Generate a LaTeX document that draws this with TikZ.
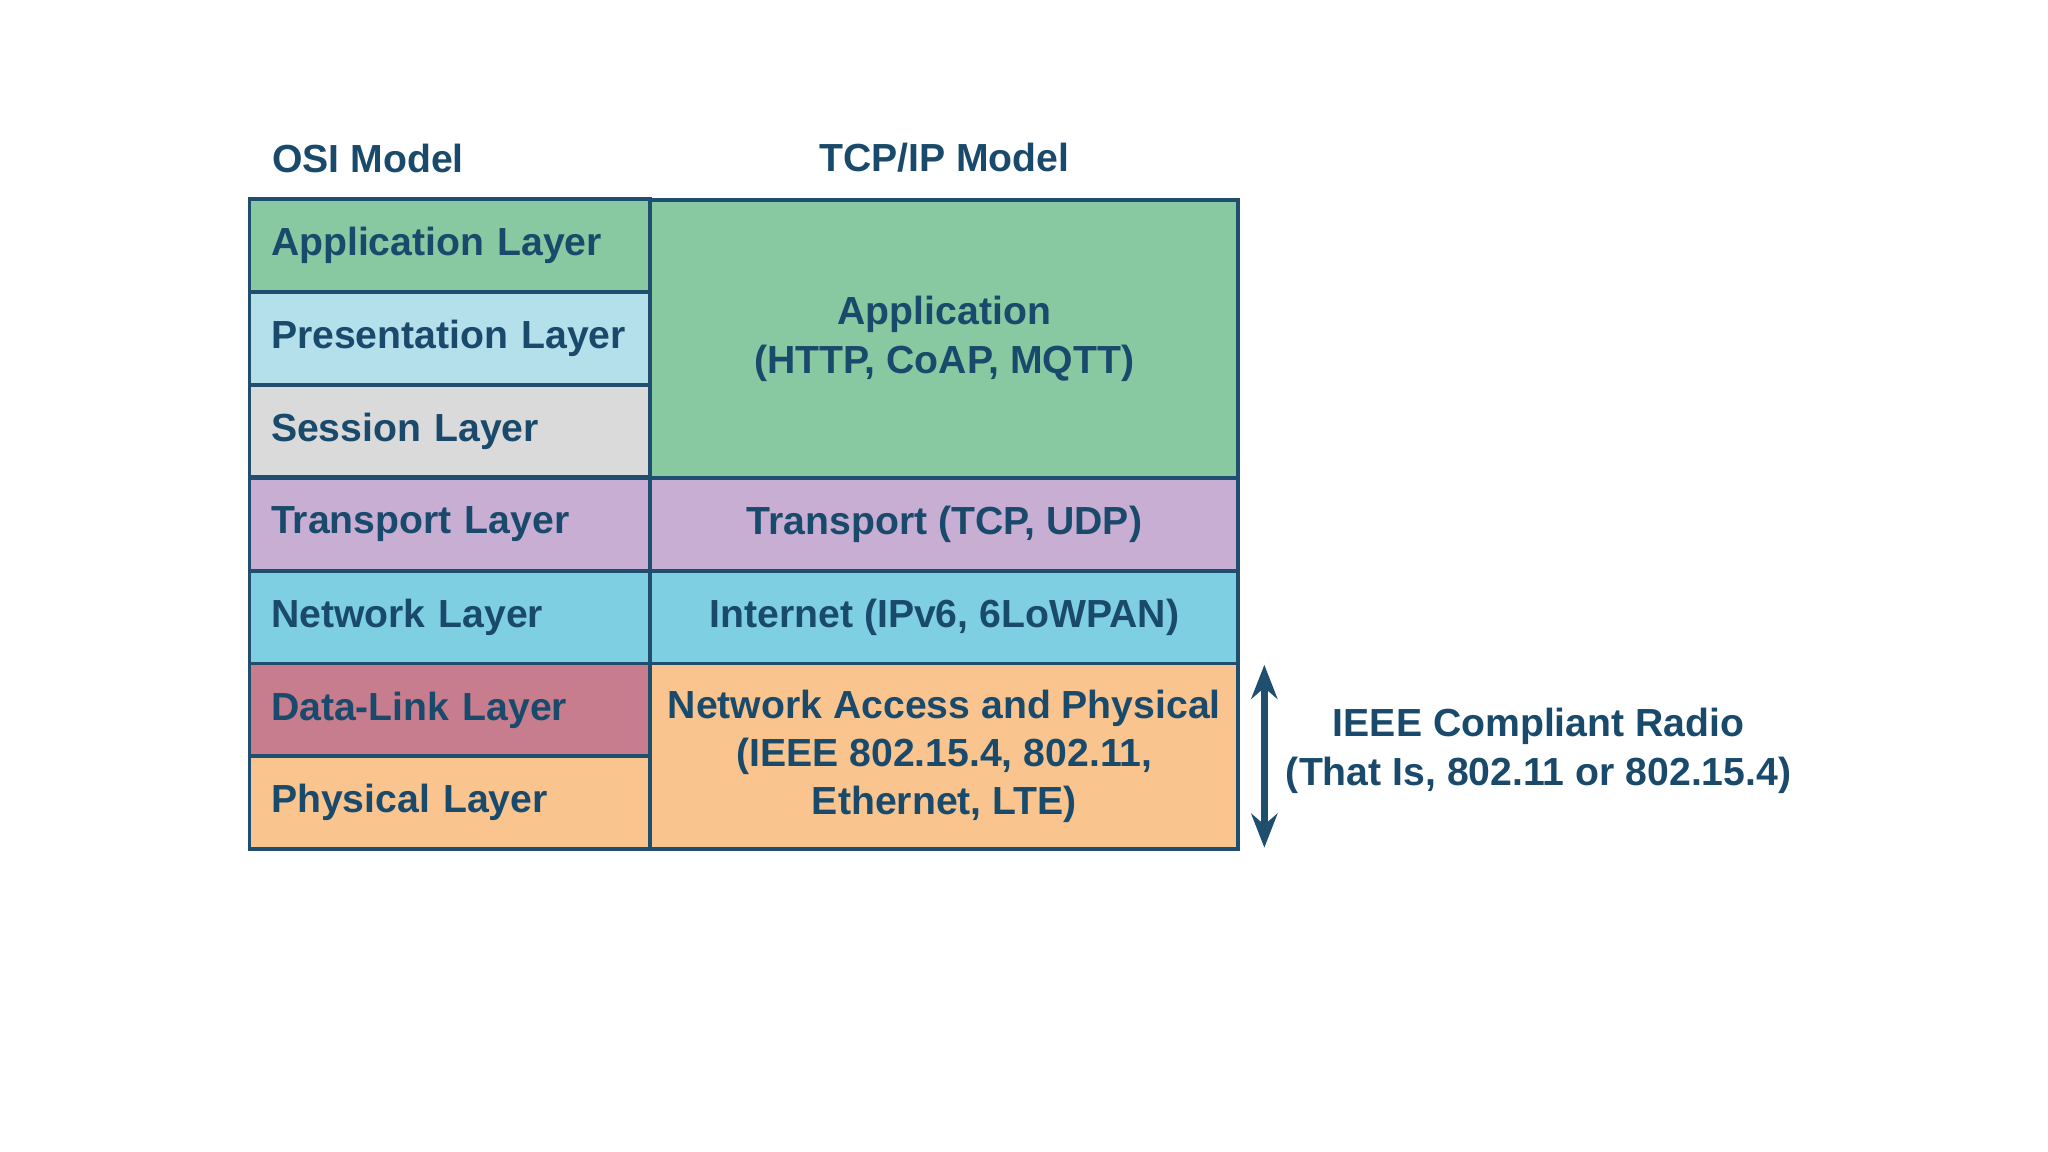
\documentclass[tikz,border=0pt]{standalone}
\usepackage{fontspec}
\setmainfont{Liberation Sans}
\usetikzlibrary{arrows.meta}
\definecolor{tx}{HTML}{1A4A6B}
\definecolor{bd}{HTML}{1F4E6E}
\definecolor{cgreen}{HTML}{88C9A1}
\definecolor{clblue}{HTML}{B3E0EA}
\definecolor{cgrey}{HTML}{DADADA}
\definecolor{cpurp}{HTML}{C9AED3}
\definecolor{cblue}{HTML}{7FCFE3}
\definecolor{cred}{HTML}{C77D8E}
\definecolor{corange}{HTML}{F9C48E}
\begin{document}
\begin{tikzpicture}[x=0.5pt,y=-0.5pt,
  cell/.style={draw=bd,line width=1.5pt,text=tx,font=\fontsize{15}{18.5}\selectfont\bfseries,inner sep=0pt},
  osi/.style={cell,minimum width=153.5pt,minimum height=35.5pt,text width=137pt,align=left,xshift=0pt},
  tcp/.style={cell,minimum width=225pt,align=center},
  lbl/.style={text=tx,font=\fontsize{15}{18.5}\selectfont\bfseries,align=center,inner sep=0pt}]
\useasboundingbox (0,0) rectangle (1568,882);
\node[osi,fill=cgreen] (o1) at (344.5,188) {Application Layer};
\node[osi,fill=clblue] (o2) at (344.5,259) {Presentation\ Layer};
\node[osi,fill=cgrey] (o3) at (344.5,330) {Session Layer};
\node[osi,fill=cpurp] (o4) at (344.5,401.5) {Transport Layer};
\node[osi,fill=cblue] (o5) at (344.5,472.5) {Network Layer};
\node[osi,fill=cred] (o6) at (344.5,543.5) {Data-Link Layer};
\node[osi,fill=corange] (o7) at (344.5,614.5) {Physical Layer};
\node[tcp,fill=cgreen,minimum height=106.5pt] (t1) at (723,259.5) {Application\\(HTTP, CoAP, MQTT)};
\node[tcp,fill=cpurp,minimum height=35.5pt] (t2) at (723,401.5) {Transport (TCP, UDP)};
\node[tcp,fill=cblue,minimum height=35.5pt] (t3) at (723,472.5) {Internet (IPv6, 6LoWPAN)};
\node[tcp,fill=corange,minimum height=71pt] (t4) at (723,579) {Network Access and Physical\\(IEEE 802.15.4, 802.11,\\Ethernet, LTE)};
\node[lbl,anchor=west] (h1) at (208,121) {OSI Model};
\node[lbl] (h2) at (723,121) {TCP/IP Model};
\coordinate (a1) at (968,509);
\coordinate (a2) at (968,649);
\draw[bd,line width=2.5pt,{Stealth[length=13pt,width=10pt]}-{Stealth[length=13pt,width=10pt]}] (a1) -- (a2);
\node[lbl] (r) at (1178,575) {IEEE Compliant Radio\\(That Is, 802.11 or 802.15.4)};
\end{tikzpicture}
\end{document}
